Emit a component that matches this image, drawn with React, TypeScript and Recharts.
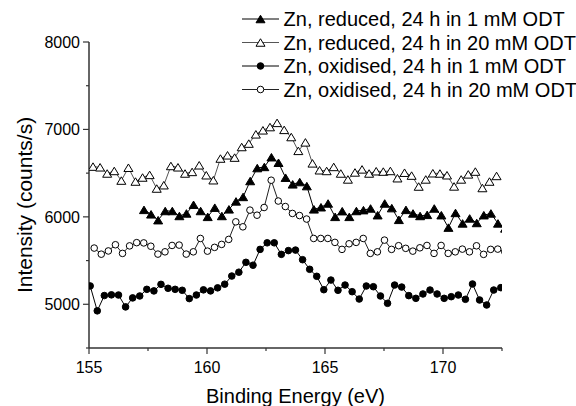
import React from 'react';
import { LineChart, Line, XAxis, YAxis, Legend, Label } from 'recharts';

// binding energy grid: 0.3 eV steps, each spectrum starts at its own energy
const energyStep = 0.3;
const reduced1Start = 157.33;
const reduced20Start = 155.17;
const oxidised1Start = 155.05;
const oxidised20Start = 155.22;

const seriesNames = [
  'Zn, reduced, 24 h in 1 mM ODT',
  'Zn, reduced, 24 h in 20 mM ODT',
  'Zn, oxidised, 24 h in 1 mM ODT',
  'Zn, oxidised, 24 h in 20 mM ODT',
];

const reduced1mM = [
  6080, 6029, 5962, 6067, 6067, 6010, 6039, 6138, 6067, 6000,
  6105, 6010, 6086, 6177, 6228, 6410, 6558, 6571, 6682, 6619,
  6448, 6372, 6398, 6352, 6086, 6110, 6153, 6000, 6065, 6000,
  6067, 6077, 6096, 6019, 6153, 6100, 5966, 6080, 6039, 6010,
  6023, 6096, 6019, 5877, 6045, 5925, 5982, 5930, 6019, 6039,
  5925, 5868,
];

const reduced20mM = [
  6575, 6567, 6496, 6525, 6415, 6562, 6404, 6450, 6480, 6324,
  6362, 6582, 6567, 6496, 6514, 6590, 6476, 6419, 6667, 6704,
  6678, 6799, 6838, 6944, 6990, 7027, 7075, 6995, 6913, 6755,
  6852, 6612, 6533, 6525, 6571, 6496, 6428, 6508, 6543, 6496,
  6522, 6518, 6525, 6442, 6505, 6472, 6347, 6428, 6499, 6496,
  6476, 6348, 6428, 6486, 6518, 6330, 6404, 6468,
];

const oxidised1mM = [
  5210, 4925, 5100, 5108, 5106, 4970, 5073, 5095, 5171, 5153,
  5228, 5183, 5171, 5160, 5065, 5106, 5165, 5153, 5188, 5230,
  5323, 5367, 5480, 5447, 5628, 5703, 5703, 5571, 5614, 5620,
  5510, 5400, 5320, 5167, 5277, 5160, 5220, 5144, 5060, 5209,
  5201, 5095, 5011, 5220, 5197, 5099, 5068, 5118, 5163, 5118,
  5068, 5087, 5106, 5057, 5232, 5049, 4992, 5163, 5190,
];

const oxidised20mM = [
  5643, 5573, 5610, 5681, 5582, 5668, 5705, 5702, 5664, 5574,
  5600, 5673, 5677, 5574, 5600, 5753, 5608, 5651, 5685, 5742,
  5943, 5886, 6077, 6019, 6107, 6419, 6181, 6118, 6039, 6015,
  5975, 5753, 5753, 5753, 5708, 5628, 5692, 5708, 5753, 5582,
  5600, 5734, 5628, 5670, 5640, 5608, 5646, 5673, 5582, 5673,
  5582, 5600, 5631, 5600, 5669, 5571, 5628, 5631, 5600,
];

const xTicks = [155, 157.5, 160, 162.5, 165, 167.5, 170, 172.5];
const yTicks = [4500, 5000, 5500, 6000, 6500, 7000, 7500, 8000];

const toPoints = (start: number, values: number[]) =>
  values.map((v, i) => ({ x: +(start + i * energyStep).toFixed(2), y: v }));

const series = [
  { name: seriesNames[0], data: toPoints(reduced1Start, reduced1mM), shape: 'triangle', filled: true, color: '#000' },
  { name: seriesNames[1], data: toPoints(reduced20Start, reduced20mM), shape: 'triangle', filled: false, color: '#555' },
  { name: seriesNames[2], data: toPoints(oxidised1Start, oxidised1mM), shape: 'circle', filled: true, color: '#000' },
  { name: seriesNames[3], data: toPoints(oxidised20Start, oxidised20mM), shape: 'circle', filled: false, color: '#222' },
];

const FONT = '"Liberation Sans", Arial, sans-serif';

const Marker = ({ cx, cy, shape, filled }: any) => {
  if (cx == null || cy == null) return null;
  const fill = filled ? '#000' : '#fff';
  if (shape === 'triangle') {
    const w = 4.5;
    const h = 7.5;
    return (
      <path
        d={`M${cx},${cy - h / 2} L${cx + w},${cy + h / 2} L${cx - w},${cy + h / 2} Z`}
        fill={fill}
        stroke="#000"
        strokeWidth={1}
      />
    );
  }
  return <circle cx={cx} cy={cy} r={3.3} fill={fill} stroke="#000" strokeWidth={1} />;
};

const YTick = ({ x, y, payload }: any) => {
  const major = payload.value % 1000 === 0;
  return (
    <g>
      <line x1={x} x2={x - (major ? 6 : 3)} y1={y} y2={y} stroke="#333" strokeWidth={1.2} />
      {major && (
        <text x={x - 9} y={y} dy="0.36em" textAnchor="end" fontSize={16} fontFamily={FONT} fill="#000">
          {payload.value}
        </text>
      )}
    </g>
  );
};

const XTick = ({ x, y, payload }: any) => {
  const major = payload.value % 5 === 0;
  return (
    <g>
      <line x1={x} x2={x} y1={y} y2={y + (major ? 6 : 3)} stroke="#333" strokeWidth={1.2} />
      {major && (
        <text x={x} y={y + 25} textAnchor="middle" fontSize={16} fontFamily={FONT} fill="#000">
          {payload.value}
        </text>
      )}
    </g>
  );
};

const LegendBox = () => (
  <svg width={340} height={104}>
    {series.map((s, i) => {
      const base = 26 + i * 23.5;
      const cy = base - 7;
      return (
        <g key={s.name}>
          <line x1={0} x2={37} y1={cy} y2={cy} stroke={s.color} strokeWidth={1} />
          <Marker cx={18.5} cy={cy} shape={s.shape} filled={s.filled} />
          <text x={41.6} y={base} fontSize={20} fontFamily={FONT} fill="#000">
            {s.name}
          </text>
        </g>
      );
    })}
  </svg>
);

export default function App() {
  return (
    <div style={{ position: 'absolute', left: 0, top: 0, width: 576, height: 406, background: '#fff' }}>
      <LineChart width={576} height={406} margin={{ top: 42, right: 74, left: 0, bottom: 0 }}>
        <XAxis
          type="number"
          dataKey="x"
          domain={[155, 172.5]}
          ticks={xTicks}
          allowDataOverflow
          height={58}
          tickSize={0}
          tickMargin={0}
          tickLine={false}
          tick={<XTick />}
          axisLine={{ stroke: '#333', strokeWidth: 1.5 }}
        >
          <Label
            content={({ viewBox }: any) => (
              <text
                x={viewBox.x + viewBox.width / 2}
                y={viewBox.y + 55}
                textAnchor="middle"
                fontSize={20}
                fontFamily={FONT}
                fill="#000"
              >
                Binding Energy (eV)
              </text>
            )}
          />
        </XAxis>
        <YAxis
          type="number"
          domain={[4500, 8000]}
          ticks={yTicks}
          allowDataOverflow
          width={89}
          tickSize={0}
          tickMargin={0}
          tickLine={false}
          tick={<YTick />}
          axisLine={{ stroke: '#333', strokeWidth: 1.5 }}
        >
          <Label
            content={({ viewBox }: any) => {
              const cx = viewBox.x + 31.5;
              const cy = viewBox.y + viewBox.height / 2 + 10;
              return (
                <text
                  x={cx}
                  y={cy}
                  transform={`rotate(-90, ${cx}, ${cy})`}
                  textAnchor="middle"
                  fontSize={21}
                  fontFamily={FONT}
                  fill="#000"
                >
                  Intensity (counts/s)
                </text>
              );
            }}
          />
        </YAxis>
        <Legend
          layout="vertical"
          align="center"
          verticalAlign="middle"
          content={<LegendBox />}
          wrapperStyle={{ left: 242, top: 0, width: 340 }}
        />
        {series.map((s) => (
          <Line
            key={s.name}
            name={s.name}
            data={s.data}
            dataKey="y"
            type="linear"
            stroke={s.color}
            strokeWidth={1}
            isAnimationActive={false}
            dot={(props: any) => (
              <Marker key={`${s.name}-${props.index}`} cx={props.cx} cy={props.cy} shape={s.shape} filled={s.filled} />
            )}
            activeDot={false}
          />
        ))}
      </LineChart>
    </div>
  );
}
